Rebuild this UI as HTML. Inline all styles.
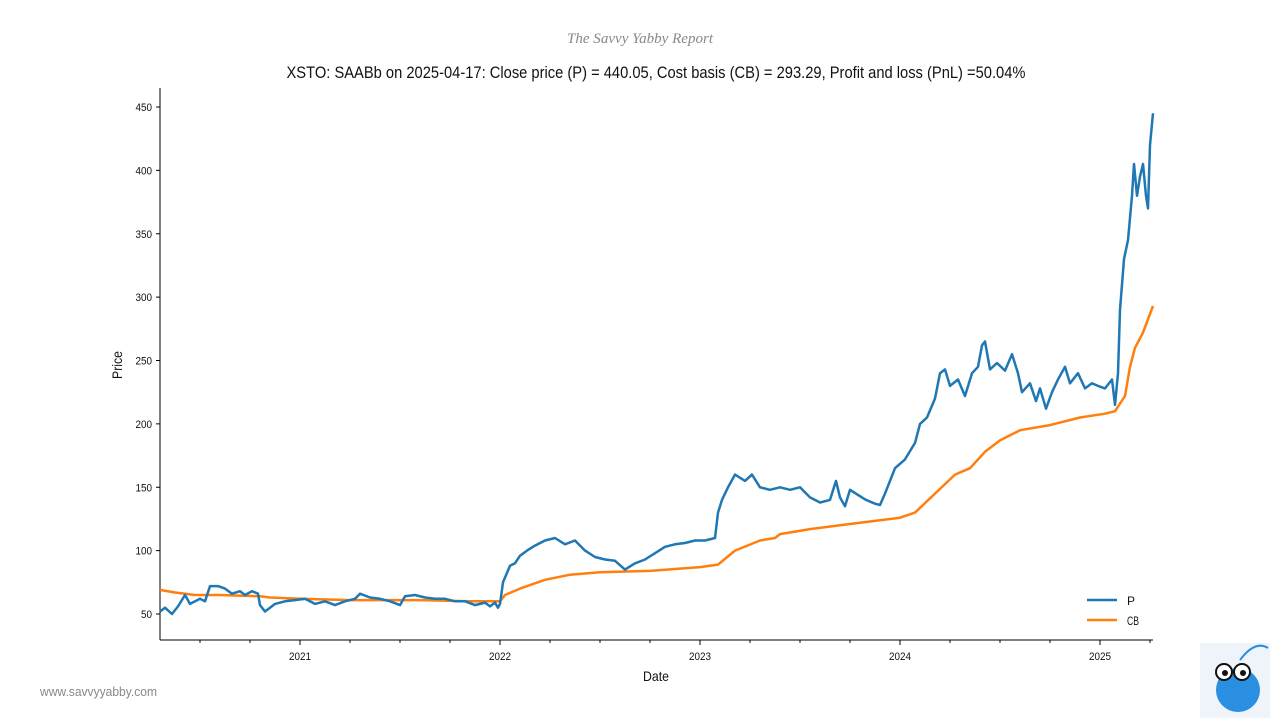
<!DOCTYPE html>
<html><head><meta charset="utf-8"><style>
body{margin:0;background:#fff;}
svg{display:block;font-family:"Liberation Sans Narrow","Liberation Sans",sans-serif;}
</style></head><body>
<svg id="chart" width="1280" height="720" viewBox="0 0 1280 720">
<text x="640" y="43" text-anchor="middle" font-size="15" font-style="italic" fill="#888" font-family="Liberation Serif,serif" textLength="146" lengthAdjust="spacingAndGlyphs">The Savvy Yabby Report</text>
<text x="656" y="78" text-anchor="middle" font-size="17" fill="#111" textLength="739" lengthAdjust="spacingAndGlyphs">XSTO: SAABb on 2025-04-17: Close price (P) = 440.05, Cost basis (CB) = 293.29, Profit and loss (PnL) =50.04%</text>
<g id="axes"></g>
<g id="series"></g>
<text x="656" y="681" text-anchor="middle" font-size="14" fill="#111" textLength="26" lengthAdjust="spacingAndGlyphs">Date</text>
<text transform="translate(122,365) rotate(-90)" text-anchor="middle" font-size="14" fill="#111" textLength="28" lengthAdjust="spacingAndGlyphs">Price</text>
<g>
<line x1="1087" y1="600" x2="1117" y2="600" stroke="#1f77b4" stroke-width="2.5"/>
<text x="1127" y="605" font-size="12" fill="#111">P</text>
<line x1="1087" y1="620" x2="1117" y2="620" stroke="#ff7f0e" stroke-width="2.5"/>
<text x="1127" y="625" font-size="12" fill="#111" textLength="12" lengthAdjust="spacingAndGlyphs">CB</text>
</g>
<text x="40" y="696" font-size="13" fill="#888" textLength="117" lengthAdjust="spacingAndGlyphs">www.savvyyabby.com</text>
<g>
<rect x="1200" y="643" width="70" height="75" fill="#eef4fa"/>
<ellipse cx="1238" cy="690" rx="22" ry="22" fill="#2a8fe0"/>
<circle cx="1224" cy="672" r="8" fill="#fff" stroke="#111" stroke-width="2"/>
<circle cx="1242" cy="672" r="8" fill="#fff" stroke="#111" stroke-width="2"/>
<circle cx="1225" cy="673" r="3" fill="#111"/><circle cx="1243" cy="673" r="3" fill="#111"/>
<path d="M1240 660 Q1255 640 1268 648" stroke="#2a8fe0" stroke-width="2" fill="none"/>
</g>
</svg>
<script>
const priceDates=[2020.300,2020.325,2020.360,2020.390,2020.425,2020.450,2020.500,2020.525,2020.550,2020.590,2020.625,2020.660,2020.700,2020.725,2020.760,2020.790,2020.800,2020.825,2020.850,2020.875,2020.925,2020.975,2021.025,2021.075,2021.125,2021.175,2021.225,2021.275,2021.300,2021.350,2021.400,2021.450,2021.500,2021.525,2021.575,2021.625,2021.675,2021.725,2021.775,2021.825,2021.875,2021.925,2021.950,2021.975,2021.990,2022.000,2022.015,2022.050,2022.075,2022.100,2022.135,2022.175,2022.225,2022.275,2022.325,2022.375,2022.425,2022.475,2022.525,2022.575,2022.625,2022.675,2022.725,2022.775,2022.825,2022.875,2022.925,2022.975,2023.025,2023.075,2023.090,2023.110,2023.140,2023.175,2023.225,2023.260,2023.300,2023.350,2023.400,2023.450,2023.500,2023.550,2023.600,2023.650,2023.680,2023.700,2023.725,2023.750,2023.790,2023.830,2023.875,2023.900,2023.925,2023.975,2024.025,2024.075,2024.100,2024.135,2024.175,2024.200,2024.225,2024.250,2024.290,2024.325,2024.360,2024.390,2024.410,2024.425,2024.450,2024.485,2024.525,2024.560,2024.590,2024.610,2024.650,2024.680,2024.700,2024.730,2024.760,2024.790,2024.825,2024.850,2024.890,2024.925,2024.960,2024.990,2025.025,2025.060,2025.075,2025.090,2025.100,2025.120,2025.140,2025.160,2025.170,2025.185,2025.200,2025.215,2025.230,2025.240,2025.250,2025.265];
const priceValues=[52,55,50,56,65,58,62,60,72,72,70,66,68,65,68,66,57,52,55,58,60,61,62,58,60,57,60,62,66,63,62,60,57,64,65,63,62,62,60,60,57,59,56,59,55,58,75,88,90,96,100,104,108,110,105,108,100,95,93,92,85,90,93,98,103,105,106,108,108,110,130,140,150,160,155,160,150,148,150,148,150,142,138,140,155,142,135,148,144,140,137,136,145,165,172,185,200,205,220,240,243,230,235,222,240,245,262,265,243,248,242,255,240,225,232,218,228,212,225,235,245,232,240,228,232,230,228,235,215,240,290,330,345,380,405,380,395,405,380,370,420,445];
const cbDates=[2020.300,2020.375,2020.475,2020.600,2020.800,2020.850,2021.000,2021.250,2021.600,2021.850,2022.000,2022.025,2022.100,2022.225,2022.350,2022.500,2022.750,2023.000,2023.090,2023.175,2023.300,2023.375,2023.400,2023.550,2023.700,2023.850,2024.000,2024.075,2024.175,2024.275,2024.350,2024.425,2024.500,2024.600,2024.750,2024.900,2025.025,2025.075,2025.125,2025.150,2025.175,2025.215,2025.265];
const cbValues=[69,67,65,65,64,63,62,61,61,60,60,65,70,77,81,83,84,87,89,100,108,110,113,117,120,123,126,130,145,160,165,178,187,195,199,205,208,210,222,245,260,272,293];
const yTicks=[50,100,150,200,250,300,350,400,450];
const xTicks=[2021,2022,2023,2024,2025];
const X0=160,X1=1153,D0=2020.30,D1=2025.265;
const Y0=614,VY0=50,PXU=1.2675;
const sx=d=>X0+(d-D0)/(D1-D0)*(X1-X0);
const sy=v=>Y0-(v-VY0)*PXU;
const NS="http://www.w3.org/2000/svg";
function mk(tag,attrs,parent){const e=document.createElementNS(NS,tag);for(const k in attrs)e.setAttribute(k,attrs[k]);parent.appendChild(e);return e;}
const ax=document.getElementById('axes');
let l=mk('line',{x1:X0,y1:88,x2:X0,y2:640,stroke:'#000','stroke-width':1},ax);


l=mk('line',{x1:X0,y1:640,x2:X1,y2:640,stroke:'#000','stroke-width':1},ax);


yTicks.forEach(v=>{
 const t=mk('line',{x1:X0-4,y1:sy(v),x2:X0,y2:sy(v),stroke:'#000'},ax);
 
 
 const tx=mk('text',{x:X0-8,y:sy(v)+4,'text-anchor':'end','font-size':11,fill:'#111',textLength:String(v).length*5.5,lengthAdjust:'spacingAndGlyphs'},ax);
 tx.textContent=v;
 
 
});
for(let q=2020.5;q<=D1;q+=0.25){
 const t=mk('line',{x1:sx(q),y1:640,x2:sx(q),y2:643,stroke:'#000'},ax);
 
 
}
xTicks.forEach(d=>{
 const t=mk('line',{x1:sx(d),y1:640,x2:sx(d),y2:645,stroke:'#000'},ax);
 
 
 const tx=mk('text',{x:sx(d),y:660,'text-anchor':'middle','font-size':11,fill:'#111',textLength:22,lengthAdjust:'spacingAndGlyphs'},ax);
 tx.textContent=d;
 
 
});
const sg=document.getElementById('series');
function line(ds,vs,color){return mk('polyline',{points:ds.map((d,i)=>sx(d).toFixed(1)+','+sy(vs[i]).toFixed(1)).join(' '),fill:'none',stroke:color,'stroke-width':2.5,'stroke-linejoin':'round'},sg);}
const cb=line(cbDates,cbValues,'#ff7f0e');


const p=line(priceDates,priceValues,'#1f77b4');


</script>
</body></html>
